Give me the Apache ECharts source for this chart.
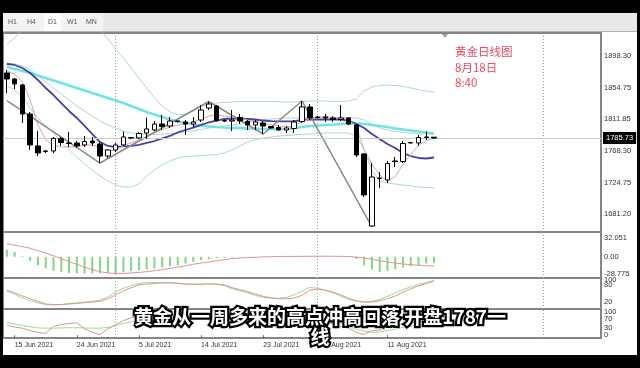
<!DOCTYPE html>
<html><head><meta charset="utf-8">
<script src="https://cdn.jsdelivr.net/npm/echarts/dist/echarts.min.js"></script>
<style>html,body{margin:0;padding:0;background:#000;}#c{width:640px;height:368px;}</style>
</head><body><div id="c"></div>
<script>
// ---------------- data ----------------
const dates = ['14 Jun 2021','15 Jun 2021','16 Jun 2021','17 Jun 2021','18 Jun 2021','20 Jun 2021','21 Jun 2021','22 Jun 2021','23 Jun 2021','24 Jun 2021','25 Jun 2021','28 Jun 2021','29 Jun 2021','30 Jun 2021','1 Jul 2021','2 Jul 2021','4 Jul 2021','5 Jul 2021','6 Jul 2021','7 Jul 2021','8 Jul 2021','9 Jul 2021','11 Jul 2021','12 Jul 2021','13 Jul 2021','14 Jul 2021','15 Jul 2021','16 Jul 2021','18 Jul 2021','19 Jul 2021','20 Jul 2021','21 Jul 2021','22 Jul 2021','23 Jul 2021','25 Jul 2021','26 Jul 2021','27 Jul 2021','28 Jul 2021','29 Jul 2021','30 Jul 2021','1 Aug 2021','2 Aug 2021','3 Aug 2021','4 Aug 2021','5 Aug 2021','6 Aug 2021','8 Aug 2021','9 Aug 2021','10 Aug 2021','11 Aug 2021','12 Aug 2021','13 Aug 2021','15 Aug 2021','16 Aug 2021','17 Aug 2021','18 Aug 2021'];
const futureDates = ['19 Aug 2021','20 Aug 2021','22 Aug 2021','23 Aug 2021','24 Aug 2021','25 Aug 2021','26 Aug 2021','27 Aug 2021','29 Aug 2021','30 Aug 2021','31 Aug 2021','1 Sep 2021','2 Sep 2021','3 Sep 2021','5 Sep 2021','6 Sep 2021','7 Sep 2021','8 Sep 2021','9 Sep 2021','10 Sep 2021','12 Sep 2021'];
// [open, close, low, high]
const ohlc = [
[1875.0,1866.8,1847.6,1879.1],[1866.8,1859.9,1853.0,1868.1],[1858.5,1818.8,1806.4,1859.9],[1818.8,1776.3,1769.4,1821.5],
[1774.9,1765.2,1761.1,1795.4],[1767.3,1768.0,1765.2,1769.4],[1768.0,1785.2,1765.2,1787.2],[1785.2,1779.7,1774.9,1787.2],
[1779.0,1778.3,1773.5,1794.1],[1779.0,1774.9,1772.1,1781.7],[1776.3,1781.0,1773.5,1788.6],[1781.7,1779.0,1774.9,1787.2],
[1777.6,1761.1,1751.5,1780.3],[1761.1,1769.4,1758.4,1770.7],[1769.4,1776.3,1766.6,1779.0],[1776.3,1787.2,1774.9,1794.7],
[1786.5,1785.8,1784.5,1787.2],[1785.8,1792.0,1784.5,1794.1],[1792.7,1798.2,1784.5,1813.9],[1796.8,1805.0,1795.4,1809.1],
[1805.0,1801.6,1796.8,1817.4],[1802.3,1809.1,1799.6,1814.6],[1809.1,1808.5,1807.1,1809.8],[1807.8,1805.0,1789.9,1810.5],
[1805.0,1807.8,1800.9,1814.6],[1810.5,1824.2,1807.8,1831.1],[1827.0,1832.5,1824.2,1835.9],[1829.7,1809.8,1808.5,1831.1],
[1809.8,1809.1,1807.8,1811.2],[1809.1,1810.5,1795.4,1824.2],[1813.9,1809.1,1805.0,1818.8],[1808.5,1803.7,1796.8,1810.5],
[1803.7,1807.8,1796.8,1810.5],[1806.4,1802.3,1791.3,1809.1],[1801.6,1799.6,1798.9,1802.3],[1800.2,1796.8,1795.4,1803.7],
[1796.8,1799.6,1792.7,1802.3],[1798.9,1807.8,1792.7,1810.5],[1808.5,1828.4,1806.4,1836.6],[1828.4,1813.3,1810.5,1832.5],
[1813.9,1814.6,1812.6,1816.0],[1814.6,1813.3,1807.8,1818.8],[1813.3,1811.2,1807.8,1816.0],[1811.2,1813.3,1809.1,1831.1],
[1813.3,1805.0,1803.7,1814.6],[1803.7,1762.5,1759.8,1805.0],[1763.9,1707.7,1704.9,1765.2],[1665.1,1732.3,1663.8,1751.5],
[1731.0,1730.3,1717.3,1739.2],[1728.2,1750.8,1724.1,1754.3],[1754.3,1753.6,1746.1,1759.8],[1753.6,1778.3,1751.5,1781.7],
[1779.0,1779.7,1778.3,1780.3],[1779.0,1786.5,1774.9,1789.9],[1786.5,1787.2,1783.1,1794.7],[1786.9,1785.73,1784.5,1787.2]];
const maCyan = [1883.2,1880.5,1877.7,1875.0,1871.6,1868.1,1864.7,1861.3,1857.8,1854.4,1851.0,1847.6,1844.1,1840.7,1837.3,1833.8,1829.7,1825.6,1821.5,1818.1,1814.6,1811.2,1808.5,1806.4,1804.3,1803.0,1801.6,1800.9,1800.2,1799.6,1799.6,1798.9,1798.9,1798.2,1798.2,1798.2,1798.2,1799.6,1800.9,1802.3,1803.0,1803.7,1804.3,1805.0,1805.7,1805.7,1805.0,1803.7,1802.3,1800.9,1798.9,1797.5,1796.1,1794.7,1793.4,1792.0];
const maPurple = [1887.3,1886.0,1881.8,1875.0,1865.4,1854.4,1844.8,1833.8,1822.9,1813.3,1802.3,1791.3,1780.3,1774.9,1773.5,1774.2,1774.9,1776.3,1779.0,1781.7,1785.2,1788.6,1793.4,1796.8,1800.2,1803.7,1807.1,1809.8,1811.9,1812.6,1812.6,1811.9,1811.2,1809.8,1809.1,1808.5,1808.5,1809.1,1810.5,1811.2,1811.2,1811.2,1811.2,1811.2,1809.8,1805.0,1799.6,1791.3,1784.5,1777.6,1772.1,1765.2,1761.1,1758.4,1757.7,1759.1];
const maPink = [1877.7,1873.6,1862.6,1837.9,1803.7,1783.1,1776.3,1773.5,1773.5,1774.2,1776.3,1776.3,1772.1,1768.0,1769.4,1774.9,1779.0,1783.1,1787.2,1792.7,1797.5,1800.9,1803.7,1805.0,1807.8,1811.9,1816.0,1817.4,1816.0,1814.6,1813.3,1810.5,1807.8,1805.7,1803.7,1802.3,1800.9,1803.0,1807.8,1811.9,1814.6,1815.3,1813.9,1813.3,1811.2,1801.0,1770.0,1750.0,1735.0,1727.0,1733.0,1750.0,1763.0,1776.0,1782.0,1786.0];
const bbUpper = [1914.7,1923.0,1933.9,1945,1955,1960,1962,1962,1960,1956,1950,1944,1933.9,1921.6,1907.9,1895.6,1881.8,1868.1,1854.4,1840.7,1829.7,1821.5,1817.4,1818.8,1822.9,1828.4,1832.5,1833.8,1834.5,1835.2,1835.9,1835.9,1835.9,1835.9,1835.9,1835.5,1835.2,1835.2,1835.9,1836.6,1836.6,1836.6,1835.9,1835.9,1836.6,1839.3,1850.3,1855.8,1857.8,1858.5,1857.8,1856.5,1854.4,1852.3,1850.3,1848.2];
const bbMiddle = [1888.7,1887.3,1884.6,1879.1,1870.9,1862.6,1854.4,1846.2,1837.9,1829.7,1822.9,1816.0,1809.1,1803.7,1799.6,1795.4,1792.7,1791.3,1790.6,1790.6,1791.3,1792.0,1792.7,1794.1,1795.4,1797.5,1799.6,1800.9,1802.3,1803.7,1805.7,1807.8,1809.8,1811.2,1811.9,1812.6,1813.3,1813.3,1813.9,1813.9,1813.9,1813.9,1813.9,1813.9,1813.9,1813.3,1810.5,1805.0,1799.6,1796.8,1794.7,1793.4,1792.7,1792.0,1791.3,1791.3];
const bbLower = [1857.2,1851.7,1842.1,1827.0,1813.3,1802.3,1792.7,1780.3,1769.4,1759.8,1750.2,1741.9,1733.7,1726.9,1721.4,1718.6,1718.6,1722.7,1733.7,1741.9,1748.8,1754.3,1758.4,1760.5,1761.1,1761.8,1762.5,1763.2,1765.2,1769.4,1774.9,1780.3,1783.8,1785.8,1787.2,1788.6,1789.2,1789.9,1790.6,1791.3,1792.0,1792.7,1792.7,1792.7,1792.7,1788.6,1769.4,1741.9,1726.9,1724.1,1722.7,1721.4,1720.0,1718.6,1717.9,1717.3];
const zigzagPoints = [[0,1837.1],[12,1751.5],[26,1835.9],[33,1791.3],[38,1836.6],[47,1663.8]];
const macdHist = [12.4,8.3,1.2,-7.0,-14.3,-19.8,-23.9,-25.7,-27.4,-28.3,-28.3,-28.3,-28.3,-27.4,-27.4,-25.7,-23.9,-22.7,-21.6,-19.8,-18.1,-16.0,-14.3,-11.4,-8.6,-5.8,-4.1,-2.4,-1.8,-1.4,-1.0,-0.7,-0.6,-0.5,-0.4,-0.5,-0.6,-0.4,0.5,0.6,0.4,0.2,0.1,0.2,-0.4,-3.5,-14.3,-21.6,-25.7,-24.0,-21.6,-18.0,-16.0,-14.3,-11.4,-10.3];
const macdSignal = [22.2,19.7,17.2,14.6,10.3,6.1,1.9,-3.2,-8.3,-12.6,-17.6,-21.8,-25.3,-27.4,-28.3,-28.2,-27.5,-26.5,-25.3,-23.6,-21.8,-19.8,-17.6,-15.1,-12.6,-10.6,-8.9,-6.6,-4.9,-3.2,-2.0,-1.2,-0.7,-0.1,0.1,0.5,0.7,0.7,0.8,1.0,1.0,1.0,1.0,0.8,0.5,-0.4,-2.0,-4.1,-6.6,-8.9,-10.6,-12.2,-13.4,-14.3,-15.1,-15.5];
const stochMain = [59,47,34,24,16,10,9,10,14,16,19,22,26,38,55,69,79,86,90,90,90,90,88,84,84,84,86,84,78,67,60,52,43,36,33,33,36,45,59,72,69,62,52,40,29,22,19,21,29,40,52,64,74,83,90,97];
const stochSignal = [62,52,41,31,21,12,10,10,12,14,17,19,22,31,45,59,71,81,84,86,88,88,86,84,83,83,84,84,81,71,64,57,48,40,34,31,31,34,43,62,66,62,55,45,33,24,19,19,24,31,41,55,67,78,86,95];
const osc3Green = [53,48,42,36,31,30,30,31,32,32,31,30,30,33,40,50,58,64,68,72,74,75,76,76,76,78,80,78,75,70,66,62,58,56,54,52,52,54,58,60,60,58,55,50,36,26,18,12,14,20,26,33,38,43,47,50];
const osc3Pink = [42,35,30,20,12,8,38,46,50,53,28,12,2,28,45,62,75,80,82,85,80,82,80,75,78,85,88,70,68,65,60,55,58,52,50,45,48,58,72,60,58,55,50,37,30,12,3,20,22,35,38,50,52,58,60,58];
const priceTicks = [1898.30,1854.75,1811.85,1768.30,1724.75,1681.20];
const macdTicks = [32.051,0,-28.775];
const stochTicksA = [100,20];
const stochTicksB = [80];
const osc3TicksA = [100,30];
const osc3TicksB = [70,0];
const dateLabelIdx = [1,9,17,25,33,41,49];
const vGridIdx = [14,40,69];
const lastPrice = 1785.73;
const tabs = ['H1','H4','D1','W1','MN'];
const noteText = '黄金日线图\n8月18日\n8:40';
const subtitle = '黄金从一周多来的高点冲高回落 开盘1787一\n线';

// ---------------- chart ----------------
const cats = dates.concat(futureDates);
const chart = echarts.init(document.getElementById('c'));
const gridBase = {left:3, right:39, show:true, borderColor:'#858585', borderWidth:2, backgroundColor:'#fff', containLabel:false, outerBoundsMode:'none'};
const grids = [
  Object.assign({top:33, height:199}, gridBase),
  Object.assign({top:232, height:46}, gridBase),
  Object.assign({top:278, height:31}, gridBase),
  Object.assign({top:309, height:29}, gridBase)
];
const showDate = (idx) => dateLabelIdx.indexOf(idx) >= 0;
const xAxes = grids.map((g,k) => ({
  type:'category', gridIndex:k, data:cats, boundaryGap:true,
  axisLine:{show:false}, splitLine:{show:false},
  axisTick: k===3 ? {show:true, interval:showDate, alignWithLabel:true, length:3, lineStyle:{color:'#666'}} : {show:false},
  axisLabel: k===3 ? {show:true, interval:showDate, align:'left', fontSize:7, color:'#333', margin:4, fontFamily:'Liberation Sans'} : {show:false}
}));
function yAx(k, min, max, ticks, fmt) {
  return {type:'value', gridIndex:k, position:'right', offset:0, min:min, max:max,
    axisLine:{show:false}, splitLine:{show:false}, axisTick:{show:false},
    axisLabel:{customValues:ticks, formatter:fmt, fontSize:7.5, color:'#333', margin:3, fontFamily:'Liberation Sans'}};
}
const yAxes = [
  yAx(0, 1656.9, 1929.84, priceTicks, v => Number(v).toFixed(2)),
  yAx(1, -36.0, 42.2, macdTicks, v => (v === 0 ? '0.00' : String(v))),
  yAx(2, -6, 106, stochTicksA, v => String(v)),
  yAx(3, -12, 112, osc3TicksA, v => String(v)),
  yAx(2, -6, 106, stochTicksB, v => String(v)),
  yAx(3, -12, 112, osc3TicksB, v => String(v))
];
const vStyle = {color:'#9c9c9c', type:[1,2], width:1};
const vLines = () => ({silent:true, symbol:['none','none'], label:{show:false}, lineStyle:vStyle,
  data: vGridIdx.map(i => ({xAxis: cats[i]}))});
function line(data, color, width, k, z) {
  return {type:'line', xAxisIndex:k, yAxisIndex:k, data:data, symbol:'none', showSymbol:false,
    lineStyle:{color:color, width:width}, itemStyle:{color:color}, silent:true, z:z||2};
}
const priceMark = vLines();
priceMark.data = priceMark.data.concat([{yAxis:lastPrice, lineStyle:{color:'#cccccc', type:'solid', width:1},
  label:{show:true, position:'end', formatter:lastPrice.toFixed(2), backgroundColor:'#000', color:'#fff',
  fontSize:7.5, padding:[2,3], distance:2, fontFamily:'Liberation Sans'}}]);

const series = [
  line(bbUpper, '#a9dcc6', 1, 0),
  line(bbMiddle, '#a9dcc6', 1, 0),
  line(bbLower, '#a9dcc6', 1, 0),
  line(maCyan, '#6fe4e6', 2.5, 0),
  line(maPurple, '#4a3fa8', 1.8, 0),
  line(maPink, '#e6a2a8', 1, 0),
  Object.assign(line(zigzagPoints, '#8a8a8a', 1.5, 0), {connectNulls:true}),
  {type:'candlestick', xAxisIndex:0, yAxisIndex:0, data:ohlc, barWidth:5, z:5, silent:true,
    itemStyle:{color:'#fff', color0:'#000', borderColor:'#000', borderColor0:'#000', borderWidth:1},
    markLine: priceMark},
  {type:'bar', xAxisIndex:1, yAxisIndex:1, data:macdHist, barWidth:2, silent:true,
    itemStyle:{color:'#86d486'}, markLine: vLines()},
  line(macdSignal, '#e3909a', 1, 1, 3),
  Object.assign(line(stochMain, '#96e096', 1, 2), {markLine: vLines()}),
  line(stochSignal, '#e58f98', 1, 2, 3),
  Object.assign(line(osc3Green, '#96e096', 1, 3), {markLine: vLines()}),
  line(osc3Pink, '#e58f98', 1, 3, 3)
];

const tabX = [8, 27, 48, 67, 86];
const graphic = [
  {type:'rect', shape:{x:0, y:0, width:640, height:13}, style:{fill:'#000'}, z:100, silent:true},
  {type:'rect', shape:{x:0, y:355, width:640, height:13}, style:{fill:'#000'}, z:100, silent:true},
  {type:'rect', shape:{x:0, y:0, width:3, height:368}, style:{fill:'#000'}, z:100, silent:true},
  {type:'rect', shape:{x:637, y:0, width:3, height:368}, style:{fill:'#000'}, z:100, silent:true},
  {type:'rect', shape:{x:3, y:13, width:634, height:19}, style:{fill:'#e9e9e9'}, z:99, silent:true},
  {type:'rect', shape:{x:3, y:13, width:100, height:19}, style:{fill:'#f3f3f3'}, z:99, silent:true},
  {type:'rect', shape:{x:44, y:14, width:17, height:17}, style:{fill:'#fdfdfd'}, z:99, silent:true},
  {type:'rect', shape:{x:3, y:31, width:634, height:1}, style:{fill:'#b5b5b5'}, z:99, silent:true},
  {type:'polygon', shape:{points:[[442,34],[448,34],[445,38]]}, style:{fill:'#a0a0a0'}, z:99, silent:true}
].concat(tabs.map((t,i) => ({type:'text', x:tabX[i], y:22, z:101, silent:true,
  style:{text:t, fill:'#555', font:'7px "Liberation Sans"', textVerticalAlign:'middle'}})))
 .concat([
  {type:'text', x:455, y:44, z:150, silent:true,
   style:{text:noteText, fill:'#ea4a61', font:'11.5px "Noto Sans CJK SC"', lineHeight:15.5, textVerticalAlign:'top'}},
  {type:'text', x:320, y:327, z:200, silent:true,
   style:{text:subtitle, fill:'#ffffff', stroke:'#000', lineWidth:4.5, strokeFirst:true,
     font:'bold 19px "Noto Sans CJK SC"', lineHeight:20, textAlign:'center', textVerticalAlign:'middle'}}
]);

chart.setOption({
  animation:false,
  backgroundColor:'#ffffff',
  textStyle:{fontFamily:'Liberation Sans'},
  grid:grids, xAxis:xAxes, yAxis:yAxes, series:series, graphic:graphic
});
</script></body></html>
